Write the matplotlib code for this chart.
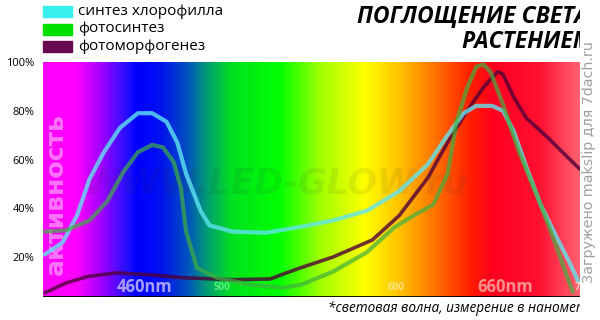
import numpy as np
import matplotlib.pyplot as plt
from matplotlib.colors import LinearSegmentedColormap
from matplotlib.patches import Rectangle

# wavelength (nm) / activity (%)
chl_nm = [401, 411, 419, 426, 434, 443, 453, 461, 469, 475, 480, 488, 493, 506, 525, 544,
          562, 581, 599, 615, 626, 635, 642, 651, 657, 663, 670, 678, 687, 694, 699]
chl_val = [21, 26, 37, 52, 63, 73, 79, 79, 75.5, 67, 54, 39, 33, 30.4, 30, 32.4,
           35, 39, 47, 58, 70, 79, 82, 82, 80, 71.5, 57, 41.5, 28, 18, 10]

photo_nm = [401, 413, 426, 436, 445, 453, 461, 467, 473, 477, 480, 486, 497, 516, 534, 544,
            562, 581, 596, 607, 618, 626, 631, 637, 642, 646, 650, 657, 666, 678, 687, 693, 696]
photo_val = [30.4, 31, 35, 43, 55, 63, 66, 65, 59, 48.5, 30.4, 15.6, 11.5, 8.6, 7.4, 8.6,
             14, 22, 32, 37, 41.5, 54, 75.5, 89.5, 98, 99, 96, 82.5, 63, 41.5, 24, 11.5, 5.7]

morph_nm = [401, 413, 425, 441, 460, 478, 506, 527, 536, 544, 562, 584, 599, 615, 626, 637,
            646, 654, 657, 663, 670, 682, 693, 700]
morph_val = [5.3, 9.4, 12, 13.5, 12.7, 11.5, 10.7, 11, 13.5, 15.6, 20, 27, 37, 52.5, 67, 80,
             89.5, 96, 95, 85.5, 77, 69, 61, 56]

legend_labels = ["синтез хлорофилла", "фотосинтез", "фотоморфогенез"]
yticks = [20, 40, 60, 80, 100]

# spectrum colours along the x axis (nm)
spec_stops = [(400, "#ff00ff"), (418, "#ff00ff"), (432, "#a000ff"), (447, "#2010ff"),
              (452, "#0000ff"), (465, "#0010f0"), (480, "#0050c0"), (492, "#00a070"),
              (505, "#00e020"), (532, "#00ff00"), (555, "#a0ff00"), (580, "#ffff00"),
              (600, "#ffc000"), (616, "#ff8000"), (639, "#ff2000"), (652, "#ff0020"),
              (678, "#ff1030"), (700, "#ff6070")]

fig = plt.figure(figsize=(6, 3.2), dpi=100)
ax = fig.add_axes([43 / 600, 23 / 320, 537 / 600, 235 / 320])

lo, hi = 400, 700
cmap = LinearSegmentedColormap.from_list(
    "spec", [((n - lo) / (hi - lo), c) for n, c in spec_stops])
grad = np.linspace(0, 1, 600).reshape(1, -1)
ax.imshow(grad, cmap=cmap, aspect="auto", extent=[lo, hi, 3.6, 100], zorder=0)

# watermark
ax.text(530, 50, "WWW.LED-GLOW.ru", fontsize=25, style="italic", fontweight="bold",
        color="#303030", alpha=0.09, ha="center", va="center", zorder=1, clip_on=True)

# vertical axis caption inside the plot
ax.text(407, 46, "активность", rotation=90, fontsize=18, fontweight="bold",
        color="white", alpha=0.45, ha="center", va="center", zorder=1)

ax.plot(morph_nm, morph_val, color="#500038", lw=2.6, alpha=0.8, zorder=3,
        solid_joinstyle="round", solid_capstyle="round")
ax.plot(chl_nm, chl_val, color="#60e4f0", lw=3, alpha=0.8, zorder=4,
        solid_joinstyle="round", solid_capstyle="round")
ax.plot(photo_nm, photo_val, color="#40b040", lw=3, alpha=0.7, zorder=5,
        solid_joinstyle="round", solid_capstyle="round")

ax.axhline(3.6, color="black", lw=2, zorder=6)

ax.set_xlim(lo, hi)
ax.set_ylim(3.6, 100)
ax.set_yticks(yticks)
ax.set_yticklabels([f"{v}%" for v in yticks], fontsize=8, family="Open Sans")
ax.tick_params(axis="y", length=0, pad=6)
ax.set_xticks([])
for s in ax.spines.values():
    s.set_visible(False)

# wavelength marks at the bottom of the spectrum
ax.text(457, 7.5, "460nm", fontsize=12, fontweight="bold", color="#a8a0ff",
        ha="center", va="center", family="Open Sans", zorder=6)
ax.text(500, 7.5, "500", fontsize=7, fontweight="bold", color="#60f080",
        ha="center", va="center", family="Open Sans", zorder=6)
ax.text(597, 7.5, "600", fontsize=7, fontweight="bold", color="#ffe080",
        ha="center", va="center", family="Open Sans", zorder=6)
ax.text(658, 7.5, "660nm", fontsize=12, fontweight="bold", color="#ff9090",
        ha="center", va="center", family="Open Sans", zorder=6)
ax.text(702, 7.5, "700", fontsize=7, fontweight="bold", color="#ffd0c0",
        ha="center", va="center", family="Open Sans", zorder=6, clip_on=True)

# overlay for clipped texts (title and footnote are cut at the right)
tax = fig.add_axes([0, 0, 580 / 600, 1])
tax.set_xlim(0, 580)
tax.set_ylim(320, 0)
tax.axis("off")
tax.text(357, 17, "ПОГЛОЩЕНИЕ СВЕТА", fontsize=16.5, fontweight="bold", style="italic",
         family="Open Sans", ha="left", va="center", clip_on=True)
tax.text(461, 42, "РАСТЕНИЕМ", fontsize=16.5, fontweight="bold", style="italic",
         family="Open Sans", ha="left", va="center", clip_on=True)
tax.text(328, 309, "*световая волна, измерение в нанометрах", fontsize=9.8, style="italic",
         family="Open Sans", ha="left", va="center", clip_on=True)

# legend
leg_colors = ["#38f0f0", "#00e000", "#6a0a50"]
for i, (lab, c) in enumerate(zip(legend_labels, leg_colors)):
    yc = 11.5 + 17.5 * i
    tax.add_patch(Rectangle((43, yc - 5.5), 29, 11, color=c, clip_on=False))
    tax.text(78, yc, lab, fontsize=11, family="Open Sans", ha="left", va="center")

fig.text(589 / 600, 1 - 162 / 320, "Загружено makslip для 7dach.ru", rotation=90,
         fontsize=10.3, color="#a0a0a0", ha="center", va="center", family="DejaVu Sans")

fig.savefig("out.png", dpi=100)
